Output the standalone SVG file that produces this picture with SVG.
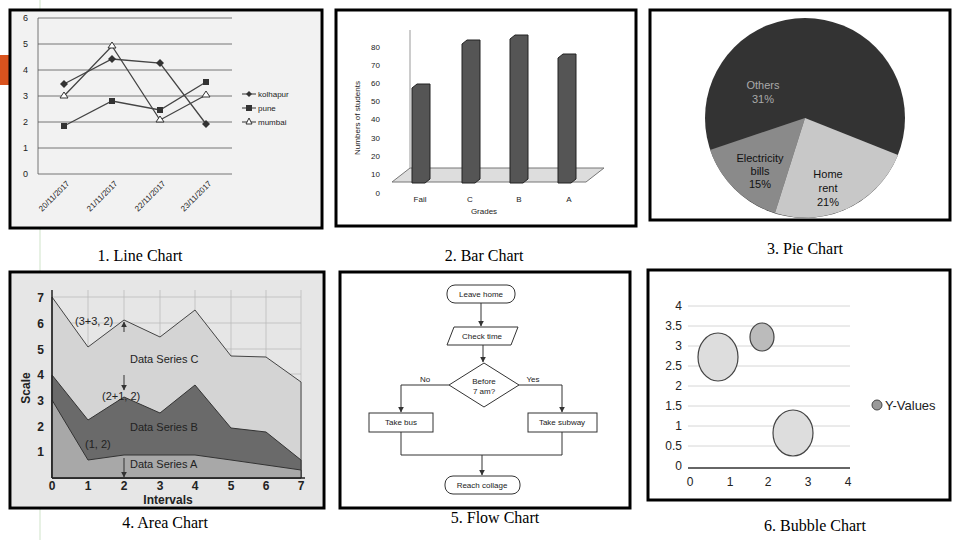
<svg xmlns="http://www.w3.org/2000/svg" width="960" height="540" viewBox="0 0 960 540">
<defs>
<marker id="ah" viewBox="0 0 10 10" refX="9" refY="5" markerWidth="6" markerHeight="6" orient="auto"><path d="M0,0L10,5L0,10z" fill="#333"/></marker>
<clipPath id="pc"><rect x="652" y="12" width="296" height="206"/></clipPath>
</defs>
<style>
.frame{fill:#fff;stroke:#000;stroke-width:3}
.t{font-family:"Liberation Sans",Arial,sans-serif;fill:#222}
.cap{font-family:"Liberation Serif","Times New Roman",serif;font-size:16px;fill:#000}
.g{stroke:#555;stroke-width:0.8}
.lg{stroke:#ccc;stroke-width:0.8}
.ln{fill:none;stroke:#444;stroke-width:1.3}
.box{fill:#fff;stroke:#333;stroke-width:1}
</style>
<rect width="960" height="540" fill="#fff"/>
<rect x="0" y="55" width="10" height="30" fill="#d9531e"/>
<line x1="40" y1="0" x2="40" y2="540" stroke="#cfe3c9" stroke-width="1"/>

<g id="line-chart">
<rect class="frame" x="10" y="10" width="312" height="218"/>
<rect x="12" y="12" width="308" height="214" fill="#f2f2f2"/>
<g class="t" font-size="9" text-anchor="end">
<text x="28" y="21">6</text><text x="28" y="47">5</text><text x="28" y="73">4</text><text x="28" y="99">3</text><text x="28" y="125">2</text><text x="28" y="151">1</text><text x="28" y="177">0</text>
</g>
<g class="g"><line x1="38" y1="18" x2="232" y2="18"/><line x1="38" y1="44" x2="232" y2="44"/><line x1="38" y1="70" x2="232" y2="70"/><line x1="38" y1="96" x2="232" y2="96"/><line x1="38" y1="122" x2="232" y2="122"/><line x1="38" y1="148" x2="232" y2="148"/><line x1="38" y1="174" x2="232" y2="174"/><line x1="38" y1="18" x2="38" y2="174"/></g>
<polyline class="ln" points="64,84 112,59 160,63 206,124"/>
<polyline class="ln" points="64,126 112,101 160,110 206,82"/>
<polyline class="ln" points="64,96 112,46 160,120 206,95"/>
<g fill="#333"><path d="M64,80l4,4-4,4-4-4z"/><path d="M112,55l4,4-4,4-4-4z"/><path d="M160,59l4,4-4,4-4-4z"/><path d="M206,120l4,4-4,4-4-4z"/>
<rect x="61" y="123" width="6" height="6"/><rect x="109" y="98" width="6" height="6"/><rect x="157" y="107" width="6" height="6"/><rect x="203" y="79" width="6" height="6"/></g>
<g fill="#fff" stroke="#333"><path d="M64,92l4,6h-8z"/><path d="M112,42l4,6h-8z"/><path d="M160,116l4,6h-8z"/><path d="M206,91l4,6h-8z"/></g>
<g class="t" font-size="8"><text x="258" y="97">kolhapur</text><text x="258" y="111">pune</text><text x="258" y="125">mumbai</text></g>
<line x1="242" y1="94" x2="256" y2="94" stroke="#333"/><path d="M249,91l3,3-3,3-3-3z" fill="#333"/>
<line x1="242" y1="108" x2="256" y2="108" stroke="#333"/><rect x="246" y="105" width="6" height="6" fill="#333"/>
<line x1="242" y1="122" x2="256" y2="122" stroke="#333"/><path d="M249,118l3,6h-6z" fill="#fff" stroke="#333"/>
<g class="t" font-size="8">
<text transform="translate(70,184) rotate(-45)" text-anchor="end">20/11/2017</text>
<text transform="translate(118,184) rotate(-45)" text-anchor="end">21/11/2017</text>
<text transform="translate(166,184) rotate(-45)" text-anchor="end">22/11/2017</text>
<text transform="translate(212,184) rotate(-45)" text-anchor="end">23/11/2017</text>
</g>
</g>

<g id="bar-chart">
<rect class="frame" x="336" y="10" width="300" height="216"/>
<path d="M392,182L410,168H604L586,182z" fill="#ddd" stroke="#777"/>
<line x1="410" y1="30" x2="410" y2="168" stroke="#999"/>
<g class="t" font-size="8" text-anchor="end">
<text x="380" y="50">80</text><text x="380" y="68">70</text><text x="380" y="86">60</text><text x="380" y="104">50</text><text x="380" y="122">40</text><text x="380" y="141">30</text><text x="380" y="159">20</text><text x="380" y="177">10</text><text x="380" y="196">0</text>
</g>
<g fill="#555" stroke="#222">
<path d="M412,88l5-4h13v95l-5,4h-13z"/><path d="M462,44l5-4h13v139l-5,4h-13z"/><path d="M510,39l5-4h13v144l-5,4h-13z"/><path d="M558,58l5-4h13v125l-5,4h-13z"/>
</g>
<g class="t" font-size="8" text-anchor="middle"><text x="420" y="202">Fail</text><text x="470" y="202">C</text><text x="519" y="202">B</text><text x="569" y="202">A</text><text x="484" y="214">Grades</text>
<text transform="translate(360,118) rotate(-90)">Numbers of students</text></g>
</g>

<g id="pie-chart">
<rect class="frame" x="650" y="10" width="300" height="210"/>
<g clip-path="url(#pc)">
<circle cx="805" cy="118" r="100" fill="#333"/>
<path d="M805,118L710,150A100,100 0 0 0 775,213z" fill="#8a8a8a"/>
<path d="M805,118L775,213A100,100 0 0 0 898,155z" fill="#c8c8c8"/>
</g>
<g class="t" font-size="11" text-anchor="middle">
<text x="763" y="89" fill="#aaa">Others</text><text x="763" y="103" fill="#aaa">31%</text>
<text x="760" y="162" fill="#111">Electricity</text><text x="760" y="175" fill="#111">bills</text><text x="760" y="188" fill="#111">15%</text>
<text x="828" y="178" fill="#111">Home</text><text x="828" y="192" fill="#111">rent</text><text x="828" y="206" fill="#111">21%</text>
</g>
</g>

<g id="captions">
<text class="cap" x="140" y="261" text-anchor="middle">1. Line Chart</text>
<text class="cap" x="484" y="261" text-anchor="middle">2. Bar Chart</text>
<text class="cap" x="805" y="254" text-anchor="middle">3. Pie Chart</text>
<text class="cap" x="165" y="528" text-anchor="middle">4. Area Chart</text>
<text class="cap" x="495" y="523" text-anchor="middle">5. Flow Chart</text>
<text class="cap" x="815" y="531" text-anchor="middle">6. Bubble Chart</text>
</g>

<g id="area-chart">
<rect class="frame" x="10" y="272" width="314" height="236"/>
<rect x="12" y="274" width="310" height="232" fill="#e6e6e6"/>
<g stroke="#bbb" stroke-width="0.8">
<line x1="52" y1="297" x2="301" y2="297"/><line x1="52" y1="323" x2="301" y2="323"/><line x1="52" y1="349" x2="301" y2="349"/><line x1="52" y1="374" x2="301" y2="374"/><line x1="52" y1="400" x2="301" y2="400"/><line x1="52" y1="426" x2="301" y2="426"/><line x1="52" y1="451" x2="301" y2="451"/>
<line x1="88" y1="290" x2="88" y2="478"/><line x1="124" y1="290" x2="124" y2="478"/><line x1="160" y1="290" x2="160" y2="478"/><line x1="195" y1="290" x2="195" y2="478"/><line x1="231" y1="290" x2="231" y2="478"/><line x1="266" y1="290" x2="266" y2="478"/><line x1="301" y1="290" x2="301" y2="478"/>
</g>
<polygon points="52,297 88,347 124,320 160,337 195,310 231,356 266,357 301,382 301,478 52,478" fill="#d4d4d4" stroke="#444"/>
<polygon points="52,375 88,420 124,397 160,413 195,385 231,428 266,432 301,460 301,478 52,478" fill="#6a6a6a" stroke="#333"/>
<polygon points="52,400 88,460 124,455 160,455 195,455 231,460 266,465 301,470 301,478 52,478" fill="#a8a8a8" stroke="#333"/>
<line x1="52" y1="290" x2="52" y2="478" stroke="#222" stroke-width="1.5"/><line x1="52" y1="478" x2="305" y2="478" stroke="#222" stroke-width="1.5"/>
<g class="t" font-size="12" font-weight="bold" text-anchor="end" fill="#333">
<text x="44" y="302">7</text><text x="44" y="328">6</text><text x="44" y="354">5</text><text x="44" y="379">4</text><text x="44" y="405">3</text><text x="44" y="431">2</text><text x="44" y="456">1</text>
</g>
<g class="t" font-size="12" font-weight="bold" text-anchor="middle" fill="#333">
<text x="52" y="490">0</text><text x="88" y="490">1</text><text x="124" y="490">2</text><text x="160" y="490">3</text><text x="195" y="490">4</text><text x="231" y="490">5</text><text x="266" y="490">6</text><text x="301" y="490">7</text>
<text x="168" y="504">Intervals</text>
<text transform="translate(30,388) rotate(-90)">Scale</text>
</g>
<g class="t" font-size="11" fill="#333">
<text x="75" y="325">(3+3, 2)</text><text x="130" y="363">Data Series C</text>
<text x="102" y="400">(2+1, 2)</text><text x="130" y="431">Data Series B</text>
<text x="85" y="448">(1, 2)</text><text x="130" y="468">Data Series A</text>
</g>
<g stroke="#333" stroke-width="1" marker-end="url(#ah)"><line x1="124" y1="332" x2="124" y2="322"/><line x1="124" y1="375" x2="124" y2="390"/><line x1="124" y1="458" x2="124" y2="477"/></g>
</g>

<g id="flow-chart" class="t" font-size="8">
<rect class="frame" x="340" y="272" width="290" height="236"/>
<g id="leave-home"><rect class="box" x="447" y="285" width="68" height="18" rx="8"/><text x="481" y="297" text-anchor="middle">Leave home</text></g>
<g id="check-time"><path class="box" d="M454,327H518L511,345H447z"/><text x="482" y="339" text-anchor="middle">Check time</text></g>
<g id="decision"><path class="box" d="M484,363L519,385L484,407L449,385z"/><text x="484" y="384" text-anchor="middle">Before</text><text x="484" y="394" text-anchor="middle">7 am?</text></g>
<g id="take-bus"><rect class="box" x="369" y="413" width="64" height="19"/><text x="401" y="425" text-anchor="middle">Take bus</text></g>
<g id="take-subway"><rect class="box" x="528" y="413" width="69" height="19"/><text x="562" y="425" text-anchor="middle">Take subway</text></g>
<g id="reach"><rect class="box" x="445" y="476" width="75" height="18" rx="8"/><text x="482" y="488" text-anchor="middle">Reach collage</text></g>
<text x="425" y="382" text-anchor="middle">No</text><text x="533" y="382" text-anchor="middle">Yes</text>
<g id="connectors" fill="none" stroke="#333" stroke-width="1">
<line x1="481" y1="303" x2="481" y2="326" marker-end="url(#ah)"/>
<line x1="483" y1="345" x2="483" y2="362" marker-end="url(#ah)"/>
<polyline points="449,385 401,385 401,412" marker-end="url(#ah)"/>
<polyline points="519,385 562,385 562,412" marker-end="url(#ah)"/>
<polyline points="401,432 401,455 562,455 562,432"/>
<line x1="482" y1="455" x2="482" y2="475" marker-end="url(#ah)"/>
</g>
</g>

<g id="bubble-chart">
<rect class="frame" x="648" y="270" width="302" height="230"/>
<g class="lg"><line x1="688" y1="306" x2="850" y2="306"/><line x1="688" y1="326" x2="850" y2="326"/><line x1="688" y1="346" x2="850" y2="346"/><line x1="688" y1="366" x2="850" y2="366"/><line x1="688" y1="386" x2="850" y2="386"/><line x1="688" y1="406" x2="850" y2="406"/><line x1="688" y1="426" x2="850" y2="426"/><line x1="688" y1="446" x2="850" y2="446"/></g>
<line x1="688" y1="468" x2="850" y2="468" stroke="#333" stroke-width="1.5"/>
<g class="t" font-size="12" text-anchor="end">
<text x="682" y="310">4</text><text x="682" y="330">3.5</text><text x="682" y="350">3</text><text x="682" y="370">2.5</text><text x="682" y="390">2</text><text x="682" y="410">1.5</text><text x="682" y="430">1</text><text x="682" y="450">0.5</text><text x="682" y="470">0</text>
</g>
<g class="t" font-size="12" text-anchor="middle"><text x="690" y="486">0</text><text x="730" y="486">1</text><text x="768" y="486">2</text><text x="808" y="486">3</text><text x="848" y="486">4</text></g>
<g fill="#ddd" stroke="#444" stroke-width="1.2"><ellipse cx="718" cy="357" rx="20" ry="24"/><ellipse cx="762" cy="337" rx="12" ry="14" fill="#bbb"/><ellipse cx="793" cy="433" rx="20" ry="23"/></g>
<circle cx="877" cy="405" r="5" fill="#999" stroke="#444"/>
<text class="t" x="885" y="410" font-size="13">Y-Values</text>
</g>
</svg>
